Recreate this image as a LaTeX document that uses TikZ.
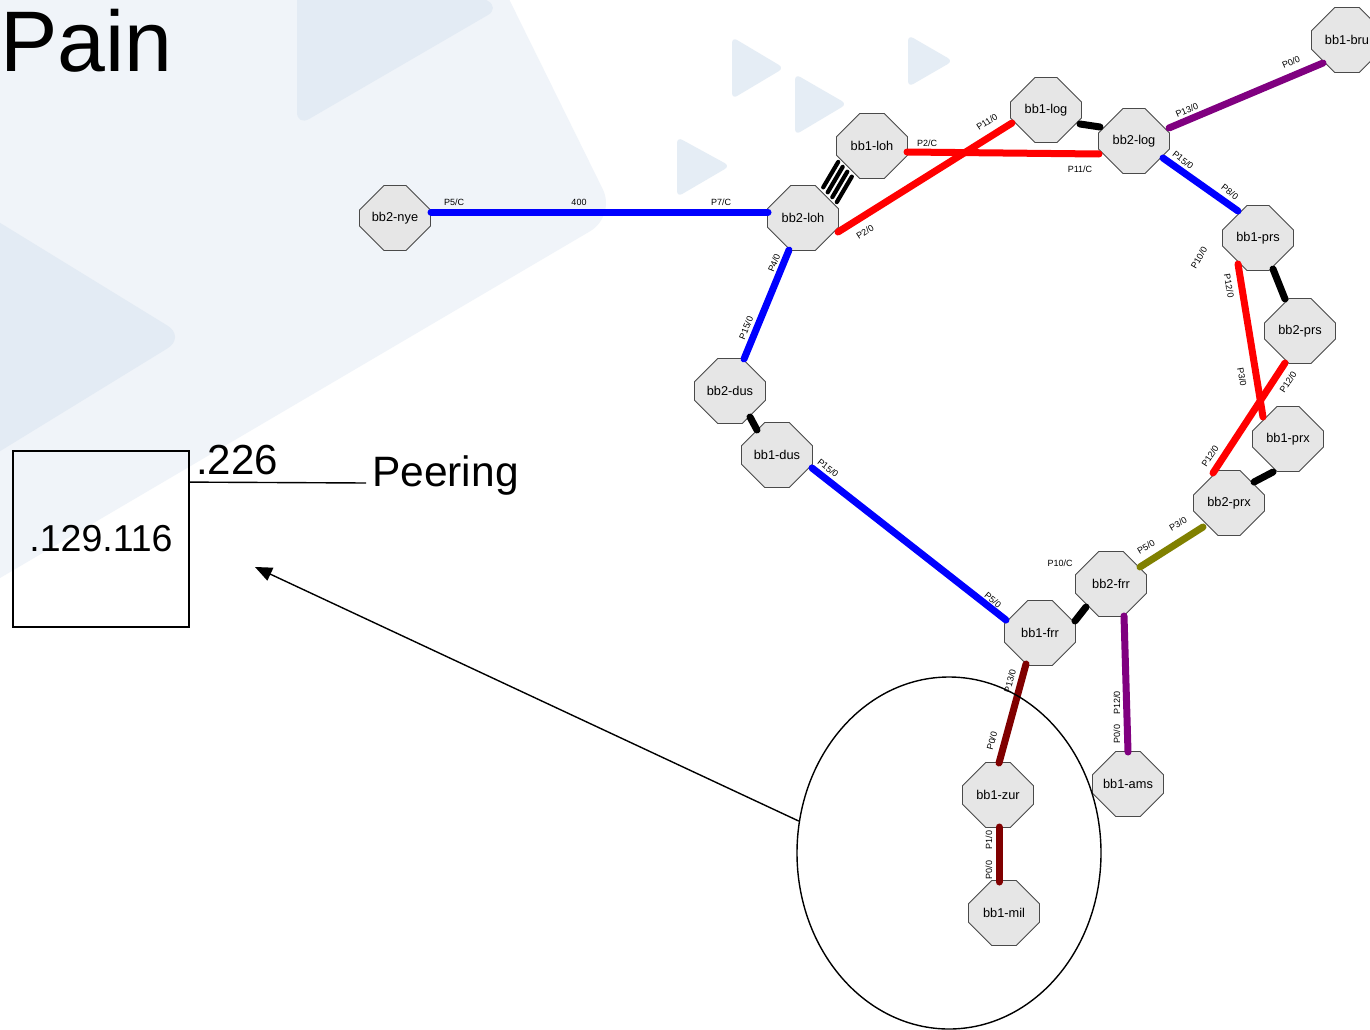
\documentclass[tikz,border=0pt]{standalone}
\usepackage{fontspec}
\setmainfont{Liberation Sans}
\usetikzlibrary{shapes.misc,shapes.geometric,arrows.meta,calc}

\definecolor{bgA}{HTML}{F0F4F9}
\definecolor{bgB}{HTML}{E3EBF4}
\definecolor{bgC}{HTML}{E5EDF5}
\definecolor{lkblue}{HTML}{0000FF}
\definecolor{lkred}{HTML}{FF0000}
\definecolor{lkpurple}{HTML}{800080}
\definecolor{lkolive}{HTML}{808000}
\definecolor{lkmaroon}{HTML}{800000}
\definecolor{routerfill}{HTML}{E6E6E6}
\definecolor{routerline}{HTML}{4A4A4A}

\tikzset{
  router/.style={chamfered rectangle, chamfered rectangle xsep=17pt,
    chamfered rectangle ysep=18.5pt, minimum width=71pt, minimum height=65pt,
    inner sep=0pt, draw=routerline, fill=routerfill, line width=0.9pt,
    font=\fontsize{12.8}{15}\selectfont},
  port/.style={font=\fontsize{9}{10}\selectfont, inner sep=0pt},
  link/.style={line width=7pt, line cap=round},
  bundle/.style={line width=4.2pt, line cap=round, black},
  bigtext/.style={inner sep=0pt, anchor=base west},
}

\begin{document}
\begin{tikzpicture}[x=1pt,y=-1pt]
\useasboundingbox (0,0) rectangle (1370,1030);
\fill[white] (0,0) rectangle (1370,1030);

% faint background arrows
\begin{scope}
\clip (0,0) rectangle (1370,1030);
\fill[bgA, rounded corners=30pt] (-80,-80) -- (470,-80) -- (616,216) -- (-80,625) -- cycle;
\fill[bgB, rounded corners=14pt] (297,-110) -- (500,8) -- (297,126) -- cycle;
\fill[bgB, rounded corners=22pt] (-60,186) -- (186,337) -- (-60,488) -- cycle;
\fill[bgC, rounded corners=6pt] (732,37) -- (784,68) -- (732,99) -- cycle;
\fill[bgC, rounded corners=6pt] (795,74) -- (847,104) -- (795,135) -- cycle;
\fill[bgC, rounded corners=6pt] (908,35) -- (953,61) -- (908,87) -- cycle;
\fill[bgC, rounded corners=6pt] (677,137) -- (730,166) -- (677,197) -- cycle;
\end{scope}

% title
\node[bigtext, font=\fontsize{86}{94}\selectfont] (title) at (0,72) {Pain};

% peering block
\node[draw, line width=1.8pt, minimum width=176pt, minimum height=176pt,
  inner sep=0pt, font=\fontsize{37.5}{42}\selectfont] (net) at (101,539) {.129.116};
\node[bigtext, font=\fontsize{42}{46}\selectfont] (addr) at (196,474) {.226};
\coordinate (peerend) at (366,483);
\draw[line width=1.4pt] ($(net.north east)+(0,32)$) -- (peerend);
\node[bigtext, font=\fontsize{42.5}{47}\selectfont] (peer) at (372,486) {Peering};

% routers
\node[router] (nye)  at (395,218) {bb2-nye};
\node[router] (loh2) at (803,218) {bb2-loh};
\node[router] (loh1) at (872,146) {bb1-loh};
\node[router] (log1) at (1046,110) {bb1-log};
\node[router] (log2) at (1134,141) {bb2-log};
\node[router] (bru)  at (1347,40) {bb1-bru};
\node[router] (prs1) at (1258,238) {bb1-prs};
\node[router] (prs2) at (1300,331) {bb2-prs};
\node[router] (prx1) at (1288,439) {bb1-prx};
\node[router] (prx2) at (1229,503) {bb2-prx};
\node[router] (frr2) at (1111,584) {bb2-frr};
\node[router] (frr1) at (1040,633) {bb1-frr};
\node[router] (dus2) at (730,391) {bb2-dus};
\node[router] (dus1) at (777,455) {bb1-dus};
\node[router] (zur)  at (998,795) {bb1-zur};
\node[router] (mil)  at (1004,913) {bb1-mil};
\node[router] (ams)  at (1128,784) {bb1-ams};

% links
\draw[link, lkblue]   ($(nye)+(36,-6)$)   -- ($(loh2)+(-35,-6)$);
\draw[link, lkblue]   ($(loh2)+(-14,32)$) -- ($(dus2)+(14,-32)$);
\draw[link, lkred]    ($(loh1)+(35,6)$)   -- ($(log2)+(-35,13)$);
\draw[link, lkred]    ($(loh2)+(35,14)$)  -- ($(log1)+(-34,13)$);
\draw[link, black]    ($(log1)+(34,14)$)  -- ($(log2)+(-34,-14)$);
\draw[link, lkpurple] ($(log2)+(35,-13)$) -- ($(bru)+(-24,23)$);
\draw[link, lkblue]   ($(log2)+(29,17)$)  -- ($(prs1)+(-20,-27)$);
\draw[link, black]    ($(prs1)+(15,31)$)  -- ($(prs2)+(-15,-32)$);
\draw[link, lkred]    ($(prs1)+(-20,26)$) -- ($(prx1)+(-25,-22)$);
\draw[link, lkred]    ($(prs2)+(-15,32)$) -- ($(prx2)+(-16,-30)$);
\draw[link, black]    ($(prx1)+(-15,33)$) -- ($(prx2)+(25,-21)$);
\draw[link, lkolive]  ($(prx2)+(-26,24)$) -- ($(frr2)+(29,-17)$);
\draw[link, black]    ($(frr2)+(-25,23)$) -- ($(frr1)+(35,-12)$);
\draw[link, lkpurple] ($(frr2)+(13,32)$)  -- ($(ams)+(0,-32)$);
\draw[link, lkblue]   ($(dus1)+(35,13)$)  -- ($(frr1)+(-34,-13)$);
\draw[link, black]    ($(dus2)+(20,26)$)  -- ($(dus1)+(-20,-25)$);
\draw[link, lkmaroon] ($(frr1)+(-14,31)$) -- ($(zur)+(1,-32)$);
\draw[link, lkmaroon] ($(zur)+(1,32)$)    -- ($(mil)+(-5,-31)$);

% four-member bundle between the two loh routers
\draw[bundle] ($(loh2)+(20.2,-30.65)$) -- ($(loh1)+(-33.8,15.9)$);
\draw[bundle] ($(loh2)+(24.7,-25.7)$)  -- ($(loh1)+(-29.3,20.8)$);
\draw[bundle] ($(loh2)+(29.3,-20.8)$)  -- ($(loh1)+(-24.7,25.7)$);
\draw[bundle] ($(loh2)+(33.8,-15.9)$)  -- ($(loh1)+(-20.2,30.65)$);

% port labels
\node[port] (p1)  at (454,202) {P5/C};
\node[port] (p2)  at (579,202) {400};
\node[port] (p3)  at (721,202) {P7/C};
\node[port] (p4)  at (927,143) {P2/C};
\node[port, rotate=33] (p5) at (987,122) {P11/0};
\node[port] (p6)  at (1080,169) {P11/C};
\node[port, rotate=32] (p7) at (865,232) {P2/0};
\node[port, rotate=23] (p8) at (1187,110) {P13/0};
\node[port, rotate=23] (p9) at (1291,62) {P0/0};
\node[port, rotate=-38] (p10) at (1183,160) {P15/0};
\node[port, rotate=-38] (p11) at (1230,192) {P8/0};
\node[port, rotate=60] (p12) at (1199,258) {P10/0};
\node[port, rotate=-80] (p13) at (1229,286) {P12/0};
\node[port, rotate=-80] (p14) at (1242,377) {P3/0};
\node[port, rotate=57] (p15) at (1288,382) {P12/0};
\node[port, rotate=57] (p16) at (1210,456) {P12/0};
\node[port, rotate=30] (p17) at (1178,524) {P3/0};
\node[port, rotate=30] (p18) at (1146,547) {P5/0};
\node[port] (p19) at (1060,563) {P10/C};
\node[port, rotate=-40] (p20) at (993,600) {P5/0};
\node[port, rotate=68] (p21) at (774,263) {P4/0};
\node[port, rotate=68] (p22) at (746,328) {P15/0};
\node[port, rotate=-38] (p23) at (828,468) {P15/0};
\node[port, rotate=75] (p24) at (1010,681) {P13/0};
\node[port, rotate=75] (p25) at (992,741) {P0/0};
\node[port, rotate=90] (p26) at (1117,703) {P12/0};
\node[port, rotate=90] (p27) at (1117,734) {P0/0};
\node[port, rotate=90] (p28) at (989,840) {P1/0};
\node[port, rotate=90] (p29) at (989,870) {P0/0};

% highlighted area and pointer
\node[draw, ellipse, line width=1.4pt, minimum width=304pt, minimum height=352pt,
  inner sep=0pt] (focus) at (949,853) {};
\coordinate (tip) at (255,567);
\draw[line width=1.4pt, -{Triangle[length=17pt,width=14pt]}] (focus.168) -- (tip);
\end{tikzpicture}
\end{document}
